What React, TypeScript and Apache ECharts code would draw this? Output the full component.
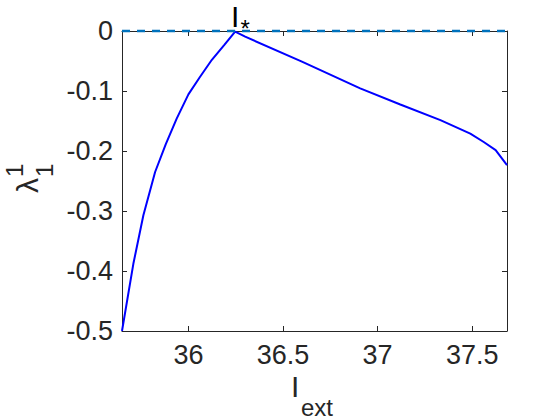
import React, { useEffect, useRef } from "react";
import * as echarts from "echarts";

const xValues = [35.649, 35.709, 35.762, 35.824, 35.88, 35.938, 36.0, 36.06, 36.124, 36.19, 36.247, 36.3, 36.6, 36.908, 37.12, 37.332, 37.49, 37.561, 37.624, 37.684];
const yValues = [-0.5, -0.388, -0.307, -0.235, -0.189, -0.146, -0.1056, -0.077, -0.048, -0.023, -0.001, -0.0095, -0.051, -0.0956, -0.1225, -0.1485, -0.171, -0.185, -0.1985, -0.2236];
const xTicks = [36, 36.5, 37, 37.5];
const xMin = 35.649;
const xMax = 37.684;
const yMin = -0.5;
const yMax = 0;
const yStep = 0.1;

const TEXT = "#262626";
const FONT = "Liberation Sans, Arial, Helvetica, sans-serif";

export default function App() {
  const ref = useRef<HTMLDivElement>(null);
  useEffect(() => {
    if (!ref.current) return;
    const chart = echarts.init(ref.current, null, { renderer: "svg" });
    const axisCommon = {
      axisLine: { show: true, onZero: false, lineStyle: { color: TEXT, width: 1 } },
      axisTick: { show: true, inside: true, length: 5, lineStyle: { color: TEXT, width: 1 } },
      splitLine: { show: false },
    };
    chart.setOption({
      animation: false,
      backgroundColor: "#ffffff",
      grid: { left: 122, right: 53, top: 31, bottom: 89, containLabel: false },
      xAxis: [
        {
          type: "value",
          min: xMin,
          max: xMax,
          position: "bottom",
          ...axisCommon,
          axisTick: { ...axisCommon.axisTick, customValues: xTicks },
          axisLabel: {
            customValues: xTicks,
            color: TEXT,
            fontSize: 27,
            fontFamily: FONT,
            margin: 10,
            formatter: (v: number) => String(v),
          },
        },
        {
          type: "value",
          min: xMin,
          max: xMax,
          position: "top",
          ...axisCommon,
          axisTick: { ...axisCommon.axisTick, customValues: xTicks },
          axisLabel: { show: false },
        },
      ],
      yAxis: [
        {
          type: "value",
          min: yMin,
          max: yMax,
          interval: yStep,
          position: "left",
          ...axisCommon,
          axisLabel: {
            color: TEXT,
            fontSize: 27,
            fontFamily: FONT,
            margin: 9,
            formatter: (v: number) => (Math.abs(v) < 1e-9 ? "0" : String(Math.round(v * 10) / 10)),
          },
        },
        {
          type: "value",
          min: yMin,
          max: yMax,
          interval: yStep,
          position: "right",
          ...axisCommon,
          axisLabel: { show: false },
        },
      ],
      series: [
        {
          type: "line",
          data: [[xMin, 0], [xMax, 0]],
          symbol: "none",
          clip: false,
          lineStyle: { color: "#0072BD", width: 2.5, type: [8, 7] },
          z: 5,
        },
        {
          type: "line",
          data: xValues.map((x, i) => [x, yValues[i]]),
          symbol: "none",
          lineStyle: { color: "#0000FF", width: 2 },
          z: 4,
        },
      ],
      graphic: [
        { type: "text", x: 291, y: 386.6, style: { text: "I", font: `30px ${FONT}`, fill: TEXT, verticalAlign: "middle", align: "left" } },
        { type: "text", x: 301, y: 407, style: { text: "ext", font: `24px ${FONT}`, fill: TEXT, verticalAlign: "middle", align: "left" } },
        { type: "text", x: 231, y: 16, style: { text: "I", font: `30px ${FONT}`, fill: "#000000", verticalAlign: "middle", align: "left" } },
        { type: "text", x: 240.5, y: 28.5, style: { text: "*", font: `24px ${FONT}`, fill: "#000000", verticalAlign: "middle", align: "left" } },
        {
          type: "group",
          x: 38,
          y: 193,
          rotation: Math.PI / 2,
          children: [
            { type: "text", x: 0, y: -10.4, style: { text: "λ", font: `30px ${FONT}`, fill: TEXT, verticalAlign: "middle", align: "left" } },
            { type: "text", x: 16, y: -24, style: { text: "1", font: `24px ${FONT}`, fill: TEXT, verticalAlign: "middle", align: "left" } },
            { type: "text", x: 16, y: 6.5, style: { text: "1", font: `24px ${FONT}`, fill: TEXT, verticalAlign: "middle", align: "left" } },
          ],
        },
      ],
    });
    return () => chart.dispose();
  }, []);
  return <div ref={ref} style={{ position: "absolute", left: 0, top: 0, width: 560, height: 420 }} />;
}
